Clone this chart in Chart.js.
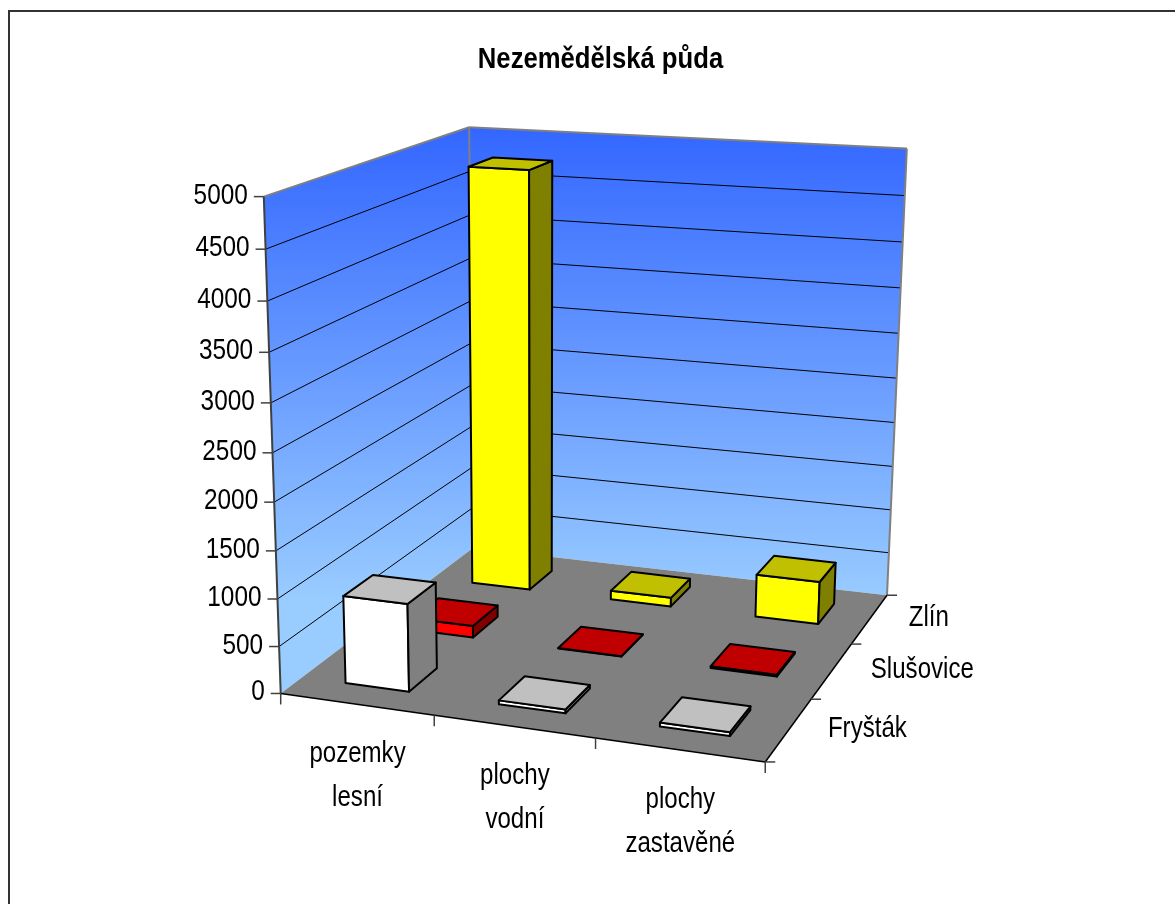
<!DOCTYPE html>
<html>
<head>
<meta charset="utf-8">
<title>Nezemědělská půda</title>
<script src="https://cdn.jsdelivr.net/npm/chart.js@4"></script>
<style>
  html, body { margin: 0; padding: 0; background: #fff; }
  #wrap { position: relative; width: 1175px; height: 904px; overflow: hidden; }
</style>
</head>
<body>
<div id="wrap"><canvas id="chart" width="1175" height="904"></canvas></div>
<script>
const chartTitle = "Nezemědělská půda";
const categories = [["pozemky", "lesní"], ["plochy", "vodní"], ["plochy", "zastavěné"]];
const seriesNames = ["Fryšták", "Slušovice", "Zlín"];
const frystakValues = [930, 40, 40];
const slusoviceValues = [130, 5, 20];
const zlinValues = [4750, 100, 480];
const yTicks = [0, 500, 1000, 1500, 2000, 2500, 3000, 3500, 4000, 4500, 5000];

// box corners as seen on screen: [u, v, w, screenX, screenY]
// u = along categories, v = into depth, w = height
const boxCorners = [
  [0, 0, 0, 282, 692],
  [1, 0, 0, 765, 763],
  [1, 1, 0, 888, 594],
  [0, 1, 0, 471, 549],
  [0, 0, 1, 263, 196],
  [0, 1, 1, 471, 127],
  [1, 1, 1, 906, 149],
  [0, 0, 0.2, 278, 599],
  [0, 0, 0.5, 272, 454],
  [0, 0, 0.8, 267, 301],
];

// faces: front, side, top
const seriesColors = [
  ["#ffffff", "#808080", "#c0c0c0"],
  ["#ff0000", "#800000", "#c00000"],
  ["#ffff00", "#808000", "#c0c000"],
];

const FONT = '"Liberation Sans", Arial, sans-serif';
const BAR_SIZE = 0.42;

// least squares fit of a 3x4 camera matrix (m[11] = 1) to the box corners
function fitCamera(points) {
  const n = 11;
  const ata = Array.from({ length: n }, () => new Array(n + 1).fill(0));
  const addRow = (row, rhs) => {
    for (let i = 0; i < n; i++) {
      for (let j = 0; j < n; j++) ata[i][j] += row[i] * row[j];
      ata[i][n] += row[i] * rhs;
    }
  };
  points.forEach(([u, v, w, x, y]) => {
    addRow([u, v, w, 1, 0, 0, 0, 0, -x * u, -x * v, -x * w], x);
    addRow([0, 0, 0, 0, u, v, w, 1, -y * u, -y * v, -y * w], y);
  });
  for (let c = 0; c < n; c++) {
    let p = c;
    for (let r = c + 1; r < n; r++) if (Math.abs(ata[r][c]) > Math.abs(ata[p][c])) p = r;
    [ata[c], ata[p]] = [ata[p], ata[c]];
    for (let r = 0; r < n; r++) {
      if (r === c) continue;
      const f = ata[r][c] / ata[c][c];
      for (let k = c; k <= n; k++) ata[r][k] -= f * ata[c][k];
    }
  }
  return ata.map((row, i) => row[n] / row[i]);
}

const cam = fitCamera(boxCorners);
const project = (u, v, w) => {
  const d = cam[8] * u + cam[9] * v + cam[10] * w + 1;
  return [
    (cam[0] * u + cam[1] * v + cam[2] * w + cam[3]) / d,
    (cam[4] * u + cam[5] * v + cam[6] * w + cam[7]) / d,
  ];
};

function poly(ctx, pts, fill, stroke, width) {
  ctx.beginPath();
  pts.forEach((p, i) => (i ? ctx.lineTo(p[0], p[1]) : ctx.moveTo(p[0], p[1])));
  ctx.closePath();
  if (fill) { ctx.fillStyle = fill; ctx.fill(); }
  if (stroke) { ctx.strokeStyle = stroke; ctx.lineWidth = width; ctx.lineJoin = "round"; ctx.stroke(); }
}

function line(ctx, a, b, color, width) {
  ctx.beginPath();
  ctx.moveTo(a[0], a[1]);
  ctx.lineTo(b[0], b[1]);
  ctx.strokeStyle = color;
  ctx.lineWidth = width;
  ctx.stroke();
}

// the reference text is tall and narrow, so squeeze it horizontally
function squeezedText(ctx, text, x, y, align, font, squeeze) {
  ctx.save();
  ctx.font = font;
  ctx.textAlign = align;
  ctx.textBaseline = "alphabetic";
  ctx.fillStyle = "#000";
  ctx.translate(x, y);
  ctx.scale(squeeze, 1);
  ctx.fillText(text, 0, 0);
  ctx.restore();
}

// turns the chart's flat scales into the perspective box
const box3d = {
  id: "box3d",
  beforeDatasetsDraw(chart) {
    const { ctx, chartArea: area, scales } = chart;
    const { x, y, z } = scales;
    const uOf = (i) => (x.getPixelForValue(i) - area.left) / area.width;
    const vOf = (i) => (z.getPixelForValue(i) - area.left) / area.width;
    const wOf = (val) => (area.bottom - y.getPixelForValue(val)) / area.height;
    const halfU = BAR_SIZE / categories.length / 2;
    const halfV = BAR_SIZE / seriesNames.length / 2;
    const labelFont = "29px " + FONT;

    ctx.save();

    squeezedText(ctx, chartTitle, 600.5, 68, "center", "bold 29px " + FONT, 0.885);

    // walls with the vertical gradient
    const grad = ctx.createLinearGradient(0, 127, 0, 600);
    grad.addColorStop(0, "#3366ff");
    grad.addColorStop(1, "#99ccff");
    poly(ctx, [project(0, 0, 0), project(0, 1, 0), project(0, 1, 1), project(0, 0, 1)], grad);
    poly(ctx, [project(0, 1, 0), project(1, 1, 0), project(1, 1, 1), project(0, 1, 1)], grad);

    // grid lines on both walls
    yTicks.forEach((t) => {
      if (t === 0 || t === 5000) return;
      const w = wOf(t);
      line(ctx, project(0, 0, w), project(0, 1, w), "#000", 1);
      line(ctx, project(0, 1, w), project(1, 1, w), "#000", 1);
    });

    // wall outlines
    line(ctx, project(0, 0, 1), project(0, 1, 1), "#808080", 2);
    line(ctx, project(0, 1, 1), project(1, 1, 1), "#808080", 2);
    line(ctx, project(0, 1, 0), project(0, 1, 1), "#808080", 2);
    line(ctx, project(1, 1, 0), project(1, 1, 1), "#808080", 2);

    // floor
    poly(ctx, [project(0, 0, 0), project(1, 0, 0), project(1, 1, 0), project(0, 1, 0)], "#808080");

    // axes
    line(ctx, project(0, 0, 0), project(0, 0, 1), "#404040", 2);
    line(ctx, project(0, 0, 0), project(1, 0, 0), "#000", 1.5);
    line(ctx, project(1, 0, 0), project(1, 1, 0), "#000", 1.5);

    // y ticks and labels
    yTicks.forEach((t) => {
      const p = project(0, 0, wOf(t));
      line(ctx, [p[0] - 10, p[1]], p, "#404040", 1.5);
      squeezedText(ctx, String(t), p[0] - 16, p[1] + 7, "right", labelFont, 0.84);
    });

    // category ticks and labels
    for (let i = 0; i <= categories.length; i++) {
      const p = project(i / categories.length, 0, 0);
      line(ctx, p, [p[0], p[1] + 11], "#404040", 1.5);
    }
    categories.forEach((lines, i) => {
      const p = project(uOf(i), 0, 0);
      squeezedText(ctx, lines[0], p[0] + 1, p[1] + 58, "center", labelFont, 0.83);
      squeezedText(ctx, lines[1], p[0] + 1, p[1] + 102, "center", labelFont, 0.83);
    });

    // depth ticks and labels
    for (let i = 0; i <= seriesNames.length; i++) {
      const p = project(1, i / seriesNames.length, 0);
      line(ctx, p, [p[0] + 10, p[1]], "#404040", 1.5);
    }
    seriesNames.forEach((name, i) => {
      const p = project(1, vOf(i), 0);
      squeezedText(ctx, name, p[0] + 39, p[1] + 7, "left", labelFont, 0.83);
    });

    // bars, back row first, right to left
    for (let s = seriesNames.length - 1; s >= 0; s--) {
      const values = chart.data.datasets[s].data;
      const [front, side, top] = seriesColors[s];
      for (let i = categories.length - 1; i >= 0; i--) {
        const u0 = uOf(i) - halfU, u1 = uOf(i) + halfU;
        const v0 = vOf(s) - halfV, v1 = vOf(s) + halfV;
        const h = wOf(values[i]);
        const lw = 2;
        poly(ctx, [project(u0, v0, 0), project(u1, v0, 0), project(u1, v0, h), project(u0, v0, h)], front, "#000", lw);
        poly(ctx, [project(u1, v0, 0), project(u1, v1, 0), project(u1, v1, h), project(u1, v0, h)], side, "#000", lw);
        poly(ctx, [project(u0, v0, h), project(u1, v0, h), project(u1, v1, h), project(u0, v1, h)], top, "#000", lw);
      }
    }

    // page frame, only top and left fall inside the picture
    line(ctx, [9, 904], [9, 11], "#333", 2);
    line(ctx, [8, 11], [1175, 11], "#333", 2);

    ctx.restore();
    return false; // flat bars are replaced by the 3D ones above
  },
};

new Chart(document.getElementById("chart"), {
  type: "bar",
  data: {
    labels: categories,
    datasets: [
      { label: seriesNames[0], data: frystakValues },
      { label: seriesNames[1], data: slusoviceValues },
      { label: seriesNames[2], data: zlinValues },
    ],
  },
  options: {
    responsive: false,
    animation: false,
    layout: { padding: 0 },
    plugins: {
      legend: { display: false },
      tooltip: { enabled: false },
      title: { display: false, text: chartTitle },
    },
    scales: {
      x: { display: false, offset: true },
      y: { display: false, min: 0, max: 5000 },
      z: { display: false, type: "category", axis: "x", labels: seriesNames, offset: true },
    },
  },
  plugins: [box3d],
});
</script>
</body>
</html>
